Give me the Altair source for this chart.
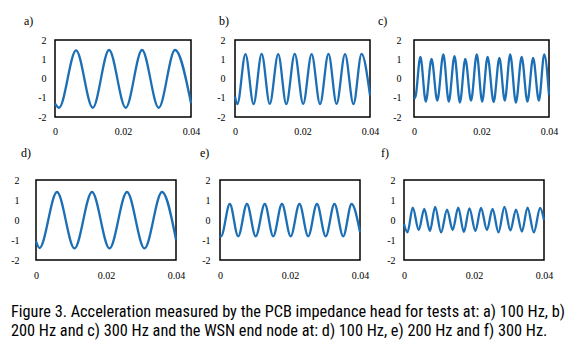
import altair as alt
import pandas as pd

# ---- data (extrema of each trace) ----
a_t = [0, 0.0012, 0.0062, 0.0111, 0.0159, 0.0208, 0.0256, 0.0305, 0.0353, 0.0400]
a_v = [-1.30, -1.52, 1.46, -1.52, 1.48, -1.52, 1.48, -1.52, 1.48, -1.28]

b_t = [0, 0.0007, 0.0031, 0.0055, 0.0079, 0.0103, 0.0128, 0.0152, 0.0177, 0.0202,
       0.0227, 0.0252, 0.0277, 0.0301, 0.0326, 0.0351, 0.0375, 0.0400]
b_v = [-0.95, -1.33, 1.27, -1.33, 1.28, -1.32, 1.27, -1.33, 1.28, -1.32,
       1.27, -1.33, 1.28, -1.32, 1.27, -1.33, 1.28, -0.88]

c_t = [0, 0.0003, 0.0019, 0.0035, 0.0052, 0.0069, 0.0087, 0.0103, 0.0120, 0.0136,
       0.0152, 0.0169, 0.0186, 0.0202, 0.0218, 0.0236, 0.0253, 0.0269, 0.0285,
       0.0302, 0.0319, 0.0336, 0.0353, 0.0370, 0.0386, 0.0400]
c_v = [-0.98, -1.02, 1.12, -1.20, 1.02, -1.15, 1.25, -1.20, 1.16, -1.25,
       1.02, -1.15, 1.25, -1.20, 1.12, -1.22, 1.07, -1.15, 1.25,
       -1.25, 1.12, -1.20, 1.07, -1.15, 1.25, -0.85]

d_t = [0, 0.0010, 0.0060, 0.0110, 0.0160, 0.0210, 0.0260, 0.0310, 0.0360, 0.0400]
d_v = [-1.05, -1.40, 1.40, -1.42, 1.40, -1.42, 1.40, -1.42, 1.40, -0.98]

e_t = [0, 0.0003, 0.0028, 0.0052, 0.0077, 0.0102, 0.0128, 0.0152, 0.0177, 0.0202,
       0.0227, 0.0252, 0.0277, 0.0302, 0.0327, 0.0352, 0.0376, 0.0400]
e_v = [-0.78, -0.82, 0.80, -0.82, 0.80, -0.82, 0.80, -0.82, 0.80, -0.82,
       0.80, -0.82, 0.80, -0.82, 0.80, -0.82, 0.80, -0.60]

f_t = [0, 0.0010, 0.0025, 0.0042, 0.0058, 0.0074, 0.0089, 0.0106, 0.0123, 0.0139,
       0.0155, 0.0171, 0.0187, 0.0204, 0.0220, 0.0237, 0.0253, 0.0270, 0.0287,
       0.0304, 0.0320, 0.0337, 0.0353, 0.0371, 0.0389, 0.0400]
f_v = [-0.20, -0.62, 0.62, -0.50, 0.55, -0.55, 0.65, -0.62, 0.52, -0.50,
       0.62, -0.60, 0.58, -0.55, 0.60, -0.50, 0.55, -0.62, 0.65,
       -0.52, 0.52, -0.58, 0.62, -0.62, 0.60, 0.00]

labels = ["a)", "b)", "c)", "d)", "e)", "f)"]
x_ticks = [0, 0.02, 0.04]
y_ticks = [-2, -1, 0, 1, 2]

caption = [
    "Figure 3. Acceleration measured by the PCB impedance head for tests at: a) 100 Hz, b)",
    "200 Hz and c) 300 Hz and the WSN end node at: d) 100 Hz, e) 200 Hz and f) 300 Hz.",
]

BLUE = "#1c6fb5"
SERIF = "Liberation Serif"


def panel(t, v, label, w, h, dx, toff, ypad, xpad):
    df = pd.DataFrame({"t": t, "v": v})
    return (
        alt.Chart(
            df,
            title=alt.TitleParams(
                label, anchor="start", frame="group", dx=dx, offset=toff,
                font=SERIF, fontSize=12, fontWeight="normal", color="black",
            ),
        )
        .mark_line(interpolate="monotone", color=BLUE, strokeWidth=2.3)
        .encode(
            x=alt.X(
                "t:Q",
                scale=alt.Scale(domain=[0, 0.04], nice=False, zero=False),
                axis=alt.Axis(values=x_ticks, format="~g", labelPadding=xpad, title=None),
            ),
            y=alt.Y(
                "v:Q",
                scale=alt.Scale(domain=[-2, 2], nice=False),
                axis=alt.Axis(values=y_ticks, labelExpr="datum.value + ''",
                              labelPadding=ypad, title=None),
            ),
        )
        .properties(width=w, height=h)
    )


pa = panel(a_t, a_v, labels[0], 136, 77, -31, 7, 9, 9)
pb = panel(b_t, b_v, labels[1], 135, 77, -16, 7, 10, 9)
pc = panel(c_t, c_v, labels[2], 135, 77, -36, 7, 13, 9)
pd_ = panel(d_t, d_v, labels[3], 140, 80, -15, 15, 17, 10)
pe = panel(e_t, e_v, labels[4], 140, 80, -20, 15, 10, 10)
pf = panel(f_t, f_v, labels[5], 140, 80, -23, 15, 9, 10)

dummy = (
    alt.Chart(pd.DataFrame({"d": [0]}))
    .mark_point(opacity=0)
    .encode(x=alt.value(10), y=alt.value(40))
    .properties(width=19, height=77, view=alt.ViewBackground(strokeOpacity=0))
)

top_inner = alt.hconcat(pa, pb, pc, spacing=44, bounds="flush")
top_row = alt.hconcat(dummy, top_inner, spacing=0, bounds="flush")
bottom_row = alt.hconcat(pd_, pe, pf, spacing=44, bounds="flush")

chart = (
    alt.vconcat(top_row, bottom_row, spacing=140, bounds="flush")
    .properties(
        padding={"left": 9, "top": 14, "right": 5, "bottom": 5},
        title=alt.TitleParams(
            caption, orient="bottom", anchor="start", frame="group", dx=-25, offset=23,
            font="Liberation Sans Narrow, Roboto Condensed, DejaVu Sans Condensed, Roboto",
            fontSize=16.3, fontWeight="normal", lineHeight=19, color="#000000",
        ),
    )
    .configure_view(stroke="black", strokeWidth=1.5)
    .configure_axis(
        domain=False, ticks=False, grid=False, labelFont=SERIF, labelFontSize=10,
        labelColor="black", labelFlush=False, labelOverlap=False,
    )
)

chart.save("out.html", embed_options={"renderer": "svg", "actions": False})
